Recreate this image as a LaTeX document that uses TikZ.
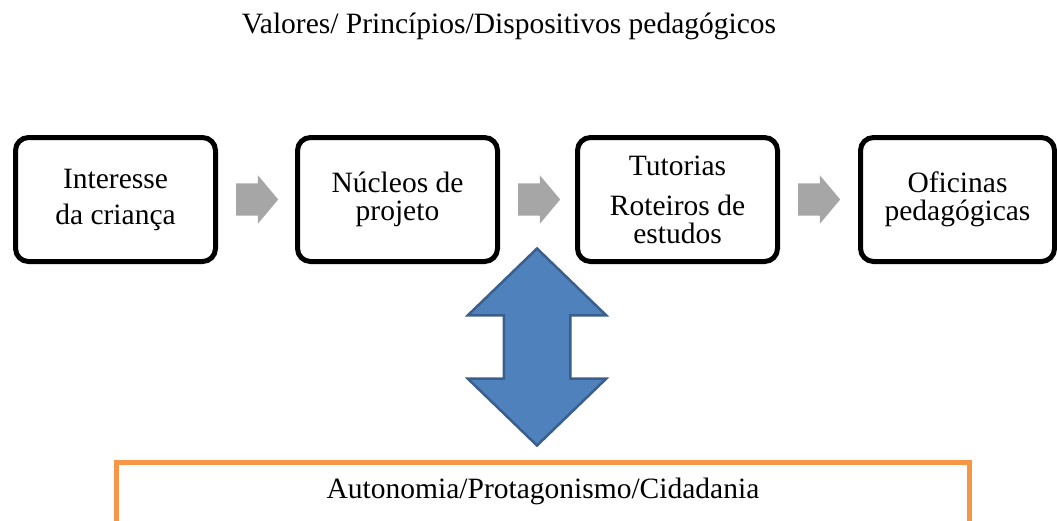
\documentclass[tikz,border=0pt]{standalone}
\usepackage{fontspec}
\setmainfont{Liberation Serif}
\usetikzlibrary{positioning,calc,shapes.arrows}
\definecolor{arrowgray}{HTML}{A6A6A6}
\definecolor{arrowblue}{HTML}{4F81BD}
\definecolor{arrowblueline}{HTML}{3A5F8B}
\definecolor{frameorange}{HTML}{F79646}

\begin{document}
\begin{tikzpicture}[x=1pt, y=-1pt,
    font=\fontsize{29.5}{28}\selectfont,
    box/.style={draw, line width=5pt, rounded corners=13pt, minimum width=200pt, minimum height=124pt, align=center, inner sep=2pt},
    grayarrow/.style={single arrow, fill=arrowgray, minimum height=42pt, inner xsep=0pt, inner ysep=16pt, single arrow head extend=8pt, single arrow tip angle=100, anchor=tail},
    bigarrow/.style={double arrow, rotate=90, fill=arrowblue, draw=arrowblueline, line width=2.5pt, minimum height=197pt, inner xsep=0pt, inner ysep=32pt, double arrow head extend=36pt, double arrow tip angle=92},
    frame/.style={draw=frameorange, line width=5pt, minimum width=853pt, minimum height=140pt}]
      \useasboundingbox (0,0) rectangle (1057,520);
      %nodes
      \node (title) at (509, 26) {Valores/ Princípios/Dispositivos pedagógicos};
      \node[box] (interesse) at (115.5, 199.5) {Interesse\\[8pt] da criança};
      \node[box] (nucleos) at (397.5, 199.5) {Núcleos de\\ projeto};
      \node[box] (tutorias) at (677.5, 199.5) {Tutorias\\[12pt] Roteiros de\\ estudos};
      \node[box, minimum width=194pt] (oficinas) at (957.5, 199.5) {Oficinas\\ pedagógicas};
      \node[frame, anchor=north] (base) at (543, 459.5) {};
      \node (autonomia) at (543, 491) {Autonomia/Protagonismo/Cidadania};
      \node[bigarrow] (link) at (537, 347) {};
      %edges
      \foreach \a in {interesse, nucleos, tutorias}
        \node[grayarrow] at ($(\a.east)+(18,0)$) {};
\end{tikzpicture}
\end{document}
